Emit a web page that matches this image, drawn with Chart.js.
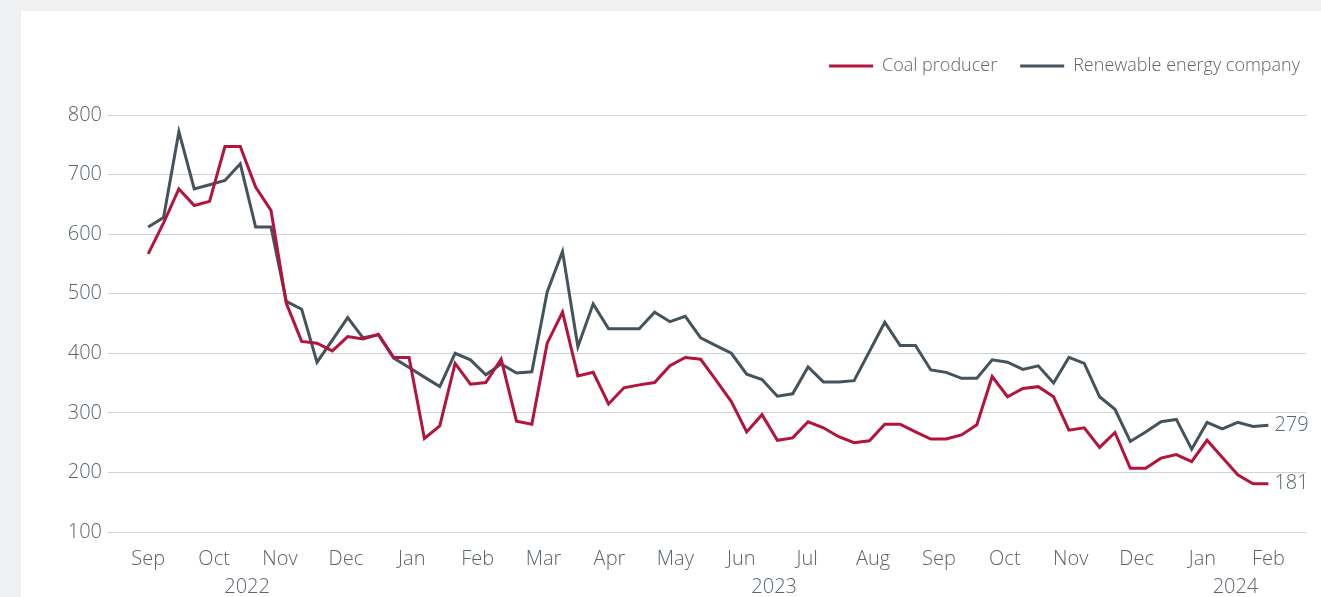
<!DOCTYPE html>
<html><head><meta charset="utf-8">
<script src="https://cdn.jsdelivr.net/npm/chart.js@4.4.1/dist/chart.umd.min.js"></script>
<style>
html,body{margin:0;padding:0;background:#eff0f2;width:1321px;height:597px;overflow:hidden;}
#panel{position:absolute;left:21px;top:11px;width:1300px;height:586px;background:#fff;}
canvas{display:block;}
</style></head><body>
<div id="panel"><canvas id="c" width="1300" height="586"></canvas></div>
<script>
// ---- data ----
const monthLabels = ['Sep','Oct','Nov','Dec','Jan','Feb','Mar','Apr','May','Jun','Jul','Aug','Sep','Oct','Nov','Dec','Jan','Feb'];
const yearLabels = ['2022','2023','2024'];
const yearAfterMonth = [1, 9, 16];
const yTicks = [100,200,300,400,500,600,700,800];
const seriesNames = ['Coal producer','Renewable energy company'];
const coal = [567,619,676,648,655,747,747,679,640,484,420,417,404,428,424,432,393,393,257,278,
  383,348,351,390,286,281,417,469,362,368,315,342,347,351,379,393,390,355,319,268,
  297,254,258,285,275,260,250,253,281,281,268,256,256,263,280,361,327,341,344,327,
  271,275,242,267,207,207,224,230,218,254,225,196,181,181];
const renewable = [612,628,772,676,683,690,718,612,612,487,474,385,422,460,426,431,392,376,360,344,
  400,389,364,382,367,369,503,571,411,483,441,441,441,469,453,462,426,413,400,365,
  356,328,332,377,352,352,354,403,452,413,413,372,368,358,358,389,385,373,379,350,
  393,383,327,306,252,268,285,289,239,284,273,284,277,279];
const weekIndex = coal.map((_, i) => i);

const FONT = "'Open Sans', 'Noto Sans', sans-serif";
const TEXT = '#5b656d';
const RED = '#b3133c';
const GREY = '#45535d';

const legendPlugin = {
  id: 'customLegend',
  afterDraw(chart) {
    const ctx = chart.ctx;
    ctx.save();
    ctx.font = '300 18px ' + FONT;
    ctx.textBaseline = 'middle';
    const y = 55, lineW = 44, gap = 9, itemGap = 23;
    let x = 1279;
    const items = chart.data.datasets.map(d => ({label: d.label, color: d.borderColor}));
    for (let i = items.length - 1; i >= 0; i--) {
      const w = ctx.measureText(items[i].label).width;
      x -= w;
      ctx.fillStyle = TEXT;
      ctx.fillText(items[i].label, x, y);
      x -= gap + lineW;
      ctx.fillStyle = items[i].color;
      ctx.fillRect(x, y - 1.5, lineW, 3);
      x -= itemGap;
    }
    ctx.restore();
  }
};

const endLabelPlugin = {
  id: 'endLabels',
  afterDatasetsDraw(chart) {
    const ctx = chart.ctx;
    ctx.save();
    ctx.font = '300 20px ' + FONT;
    ctx.fillStyle = TEXT;
    ctx.textBaseline = 'middle';
    ctx.textAlign = 'left';
    chart.data.datasets.forEach((ds, di) => {
      const meta = chart.getDatasetMeta(di);
      const pt = meta.data[meta.data.length - 1];
      ctx.fillText(String(ds.data[ds.data.length - 1]), pt.x + 6, pt.y);
    });
    ctx.restore();
  }
};

const yearPlugin = {
  id: 'yearLabels',
  afterDraw(chart) {
    const xs = chart.scales.x;
    const ctx = chart.ctx;
    ctx.save();
    ctx.font = '300 20px ' + FONT;
    ctx.fillStyle = TEXT;
    ctx.textAlign = 'center';
    ctx.textBaseline = 'middle';
    yearLabels.forEach((lab, k) => {
      const a = xs.ticks[yearAfterMonth[k]].value, b = xs.ticks[yearAfterMonth[k] + 1].value;
      ctx.fillText(lab, xs.getPixelForValue((a + b) / 2), chart.chartArea.bottom + 55);
    });
    ctx.restore();
  }
};

new Chart(document.getElementById('c'), {
  type: 'line',
  data: {
    labels: weekIndex,
    datasets: [
      {label: seriesNames[0], data: coal, borderColor: RED, backgroundColor: RED},
      {label: seriesNames[1], data: renewable, borderColor: GREY, backgroundColor: GREY}
    ]
  },
  options: {
    responsive: false,
    animation: false,
    devicePixelRatio: 1,
    layout: {padding: {top: 104, right: 15, left: 0, bottom: 0}},
    plugins: {legend: {display: false}, tooltip: {enabled: false}},
    elements: {point: {radius: 0}, line: {borderWidth: 3, tension: 0, borderJoinStyle: 'miter'}},
    scales: {
      x: {
        type: 'linear', min: -2.62, max: 75.45,
        grid: {display: false}, border: {display: false},
        afterBuildTicks: s => {
          const n = monthLabels.length - 1, last = weekIndex.length - 1;
          s.ticks = monthLabels.map((m, k) => ({value: last * k / n}));
        },
        ticks: {autoSkip: false, maxRotation: 0, padding: 7, color: TEXT,
          font: {family: FONT, size: 20, weight: 300}, callback: (v, i) => monthLabels[i]},
        afterFit: s => { s.height = 65; }
      },
      y: {
        min: 100, max: 800,
        afterBuildTicks: s => { s.ticks = yTicks.map(v => ({value: v})); },
        ticks: {padding: 6, color: TEXT, font: {family: FONT, size: 20, weight: 300}},
        grid: {color: '#d2d2d2', lineWidth: 1, drawTicks: false},
        border: {display: false},
        afterFit: s => { s.width = 87; }
      }
    }
  },
  plugins: [legendPlugin, endLabelPlugin, yearPlugin]
});
</script>
</body></html>
